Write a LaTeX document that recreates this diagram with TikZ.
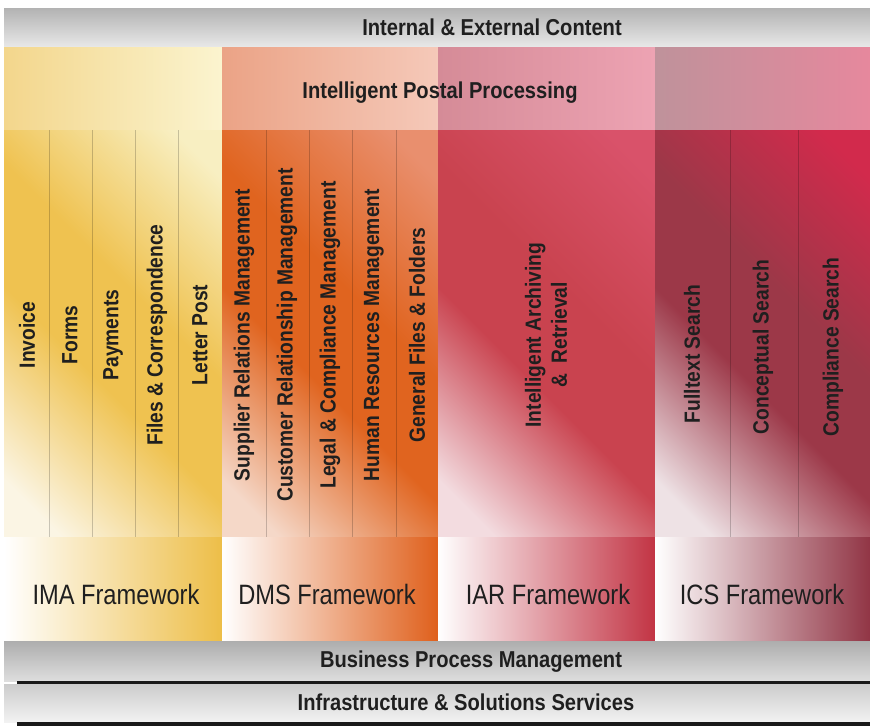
\documentclass[tikz,border=0pt]{standalone}
\usepackage{fontspec}
\setmainfont{Liberation Sans}
\newfontfamily\barfont[FakeStretch=0.875]{Liberation Sans}
\newfontfamily\frmfont[FakeStretch=0.845]{Liberation Sans}
\usetikzlibrary{positioning}

% colours of the four frameworks
\definecolor{imabandL}{HTML}{F3D68C}
\definecolor{imabandR}{HTML}{FBF4CF}
\definecolor{imaT}{HTML}{F8EFC2}
\definecolor{imaM}{HTML}{EFC250}
\definecolor{imaB}{HTML}{FBF5E4}
\definecolor{imaF}{HTML}{EDBE48}
\definecolor{dmsbandL}{HTML}{EBA386}
\definecolor{dmsbandR}{HTML}{F5C9B9}
\definecolor{dmsT}{HTML}{E98F6E}
\definecolor{dmsM}{HTML}{E0641F}
\definecolor{dmsB}{HTML}{F5D8C8}
\definecolor{dmsF}{HTML}{DF601C}
\definecolor{iarbandL}{HTML}{D58B97}
\definecolor{iarbandR}{HTML}{EDA3B3}
\definecolor{iarT}{HTML}{D9526A}
\definecolor{iarM}{HTML}{C9434F}
\definecolor{iarB}{HTML}{F3DCE0}
\definecolor{iarF}{HTML}{C23444}
\definecolor{icsbandL}{HTML}{BF929B}
\definecolor{icsbandR}{HTML}{E6889D}
\definecolor{icsT}{HTML}{D22A4C}
\definecolor{icsM}{HTML}{9C3848}
\definecolor{icsB}{HTML}{EEE2E5}
\definecolor{icsF}{HTML}{913545}

% diagonal shading of the column bodies
\colorlet{bodyT}{white}
\colorlet{bodyM}{white}
\colorlet{bodyB}{white}
\pgfdeclareverticalshading[bodyT,bodyM,bodyB]{bodyaxis}{100bp}{%
  color(0bp)=(bodyB); color(21bp)=(bodyB); color(43bp)=(bodyM);
  color(57bp)=(bodyM); color(80bp)=(bodyT); color(100bp)=(bodyT)}

\tikzset{
  bartext/.style={font=\barfont\bfseries\fontsize{23}{25}\selectfont, text=black!88, inner sep=0pt},
  coltext/.style={font=\barfont\bfseries\fontsize{22}{26}\selectfont, text=black!88,
    rotate=90, align=center, inner sep=0pt},
  fwtext/.style={font=\frmfont\fontsize{28}{30}\selectfont, text=black!88, inner sep=0pt},
  colsep/.style={draw=black, draw opacity=0.2, line width=0.8pt},
  bodyshade/.style n args={3}{/utils/exec={\colorlet{bodyT}{#1}\colorlet{bodyM}{#2}\colorlet{bodyB}{#3}},
    shading=bodyaxis, shading angle=-45}
}

\begin{document}
\begin{tikzpicture}[x=1pt,y=-1pt]
\fill[white] (0,0) rectangle (870,726);
\useasboundingbox (0,0) rectangle (870,726);

% top bar
\fill[top color=black!30, bottom color=black!9] (4,8) rectangle (870,47);
\node[bartext] (content) at (492,27) {Internal \& External Content};

% postal processing band
\fill[left color=imabandL, right color=imabandR] (4,47) rectangle (222,130);
\fill[left color=dmsbandL, right color=dmsbandR] (222,47) rectangle (438,130);
\fill[left color=iarbandL, right color=iarbandR] (438,47) rectangle (655,130);
\fill[left color=icsbandL, right color=icsbandR] (655,47) rectangle (870,130);
\node[bartext] (postal) at (440,93) {Intelligent Postal Processing};

% column bodies
\fill[bodyshade={imaT}{imaM}{imaB}] (4,130) rectangle (222,537);
\fill[bodyshade={dmsT}{dmsM}{dmsB}] (222,130) rectangle (438,537);
\fill[bodyshade={iarT}{iarM}{iarB}] (438,130) rectangle (655,537);
\fill[bodyshade={icsT}{icsM}{icsB}] (655,130) rectangle (870,537);

% column separators
\foreach \x in {49,92,135,178,266,309,352,396,730,798}
  \draw[colsep] (\x,130) -- (\x,537);
\draw[colsep] (4,537) -- (870,537);

% IMA columns
\foreach \x/\t/\n in {27/Invoice/inv, 70/Forms/forms, 113/Payments/pay,
    157/Files \& Correspondence/files, 200/Letter Post/letter}
  \node[coltext] (\n) at (\x,335) {\t};

% DMS columns
\foreach \x/\t/\n in {244/Supplier Relations Management/srm,
    287/Customer Relationship Management/crm,
    330/Legal \& Compliance Management/lcm,
    374/Human Resources Management/hrm,
    417/General Files \& Folders/gff}
  \node[coltext] (\n) at (\x,335) {\t};

% IAR column
\node[coltext] (iar) at (546,335) {Intelligent Archiving\\\&\ \ Retrieval};

% ICS columns
\node[coltext] (fts) at (692,354) {Fulltext Search};
\node[coltext] (cps) at (763,347) {Conceptual Search};
\node[coltext] (cms) at (833,347) {Compliance Search};

% framework row
\fill[left color=white, right color=imaF] (4,537) rectangle (222,640);
\fill[left color=white, right color=dmsF] (222,537) rectangle (438,640);
\fill[left color=white, right color=iarF] (438,537) rectangle (655,640);
\fill[left color=white, right color=icsF] (655,537) rectangle (870,640);
\node[fwtext] (imafw) at (116,594) {IMA Framework};
\node[fwtext] (dmsfw) at (327,594) {DMS Framework};
\node[fwtext] (iarfw) at (548,594) {IAR Framework};
\node[fwtext] (icsfw) at (762,594) {ICS Framework};

% bottom bars
\fill[top color=black!32, bottom color=black!13] (4,641) rectangle (870,681);
\fill[black!90] (17,681) rectangle (870,684);
\node[bartext] (bpm) at (471,662) {Business Process Management};
\fill[top color=black!20, bottom color=black!5] (4,684) rectangle (870,722);
\fill[black!90] (17,722) rectangle (870,726);
\node[bartext] (infra) at (466,702) {Infrastructure \& Solutions Services};

\end{tikzpicture}
\end{document}
